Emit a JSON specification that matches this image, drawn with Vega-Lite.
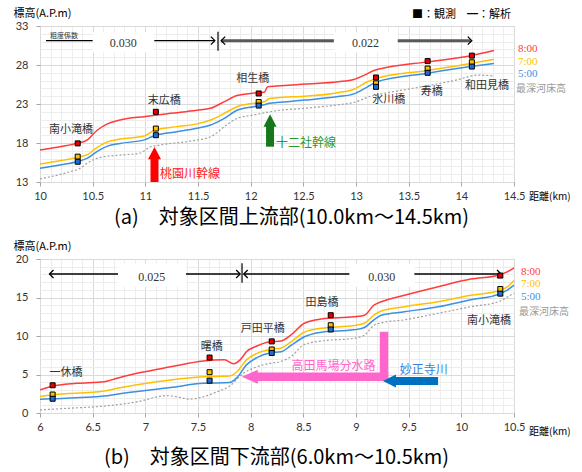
{
"$schema": "https://vega.github.io/schema/vega-lite/v6.json",
"padding": {"left": 12, "top": 6, "right": 2, "bottom": 2},
"bounds": "flush",
"spacing": 77,
"config": {
 "view": {"stroke": "#a6a6a6"},
 "axis": {"domain": false, "tickColor": "#a6a6a6", "tickSize": 4, "labelFont": "Lato", "labelFontSize": 11, "labelColor": "#333333", "titleFont": "Noto Sans CJK JP", "titleFontWeight": "normal", "titleColor": "#000000", "labelOverlap": false, "labelFlush": false, "labelBound": false},
 "text": {"font": "Noto Sans CJK JP"}
},
"datasets": {
 "lineA": [
  {"s":"8:00","km":10.0,"m":17.1},{"s":"8:00","km":10.2,"m":17.55},{"s":"8:00","km":10.35,"m":17.95},{"s":"8:00","km":10.45,"m":18.4},{"s":"8:00","km":10.54,"m":19.6},{"s":"8:00","km":10.64,"m":20.45},{"s":"8:00","km":10.76,"m":20.95},{"s":"8:00","km":11.0,"m":21.4},{"s":"8:00","km":11.24,"m":21.8},{"s":"8:00","km":11.49,"m":22.2},{"s":"8:00","km":11.62,"m":22.45},{"s":"8:00","km":11.75,"m":23.3},{"s":"8:00","km":11.87,"m":24.1},{"s":"8:00","km":12.03,"m":24.4},{"s":"8:00","km":12.13,"m":24.5},{"s":"8:00","km":12.16,"m":25.2},{"s":"8:00","km":12.25,"m":25.3},{"s":"8:00","km":12.51,"m":25.55},{"s":"8:00","km":12.83,"m":25.85},{"s":"8:00","km":12.98,"m":26.15},{"s":"8:00","km":13.08,"m":26.7},{"s":"8:00","km":13.17,"m":27.3},{"s":"8:00","km":13.3,"m":27.7},{"s":"8:00","km":13.68,"m":28.4},{"s":"8:00","km":14.09,"m":29.2},{"s":"8:00","km":14.31,"m":29.85},
  {"s":"7:00","km":10.0,"m":15.3},{"s":"7:00","km":10.2,"m":15.75},{"s":"7:00","km":10.35,"m":16.15},{"s":"7:00","km":10.45,"m":16.5},{"s":"7:00","km":10.54,"m":17.4},{"s":"7:00","km":10.64,"m":18.15},{"s":"7:00","km":10.76,"m":18.5},{"s":"7:00","km":10.99,"m":18.9},{"s":"7:00","km":11.06,"m":19.45},{"s":"7:00","km":11.1,"m":19.7},{"s":"7:00","km":11.3,"m":20.1},{"s":"7:00","km":11.49,"m":20.45},{"s":"7:00","km":11.62,"m":20.95},{"s":"7:00","km":11.75,"m":21.8},{"s":"7:00","km":11.87,"m":22.65},{"s":"7:00","km":12.03,"m":23.1},{"s":"7:00","km":12.13,"m":23.3},{"s":"7:00","km":12.18,"m":23.7},{"s":"7:00","km":12.25,"m":23.8},{"s":"7:00","km":12.51,"m":24.0},{"s":"7:00","km":12.83,"m":24.45},{"s":"7:00","km":12.98,"m":24.9},{"s":"7:00","km":13.11,"m":25.85},{"s":"7:00","km":13.2,"m":26.3},{"s":"7:00","km":13.68,"m":27.3},{"s":"7:00","km":14.09,"m":28.2},{"s":"7:00","km":14.31,"m":28.75},
  {"s":"5:00","km":10.0,"m":14.75},{"s":"5:00","km":10.2,"m":15.2},{"s":"5:00","km":10.35,"m":15.6},{"s":"5:00","km":10.45,"m":16.05},{"s":"5:00","km":10.54,"m":16.9},{"s":"5:00","km":10.64,"m":17.6},{"s":"5:00","km":10.76,"m":17.95},{"s":"5:00","km":10.99,"m":18.4},{"s":"5:00","km":11.06,"m":18.8},{"s":"5:00","km":11.1,"m":19.0},{"s":"5:00","km":11.3,"m":19.45},{"s":"5:00","km":11.49,"m":19.9},{"s":"5:00","km":11.62,"m":20.3},{"s":"5:00","km":11.75,"m":21.15},{"s":"5:00","km":11.87,"m":22.2},{"s":"5:00","km":12.03,"m":22.65},{"s":"5:00","km":12.13,"m":22.9},{"s":"5:00","km":12.18,"m":23.1},{"s":"5:00","km":12.25,"m":23.2},{"s":"5:00","km":12.51,"m":23.5},{"s":"5:00","km":12.83,"m":23.95},{"s":"5:00","km":12.98,"m":24.3},{"s":"5:00","km":13.11,"m":25.2},{"s":"5:00","km":13.2,"m":25.85},{"s":"5:00","km":13.68,"m":26.95},{"s":"5:00","km":14.09,"m":27.8},{"s":"5:00","km":14.31,"m":28.2},
  {"s":"最深河床高","km":10.0,"m":13.4},{"s":"最深河床高","km":10.28,"m":14.3},{"s":"最深河床高","km":10.38,"m":14.75},{"s":"最深河床高","km":10.47,"m":15.6},{"s":"最深河床高","km":10.57,"m":16.15},{"s":"最深河床高","km":10.76,"m":16.45},{"s":"最深河床高","km":10.95,"m":16.7},{"s":"最深河床高","km":11.04,"m":17.45},{"s":"最深河床高","km":11.14,"m":17.75},{"s":"最深河床高","km":11.4,"m":18.2},{"s":"最深河床高","km":11.62,"m":18.8},{"s":"最深河床高","km":11.75,"m":20.1},{"s":"最深河床高","km":11.87,"m":21.15},{"s":"最深河床高","km":12.03,"m":21.6},{"s":"最深河床高","km":12.25,"m":22.15},{"s":"最深河床高","km":12.51,"m":22.45},{"s":"最深河床高","km":12.83,"m":22.9},{"s":"最深河床高","km":12.98,"m":23.2},{"s":"最深河床高","km":13.14,"m":24.0},{"s":"最深河床高","km":13.3,"m":24.45},{"s":"最深河床高","km":13.62,"m":25.2},{"s":"最深河床高","km":13.93,"m":26.0},{"s":"最深河床高","km":14.16,"m":26.7},{"s":"最深河床高","km":14.31,"m":26.6}
 ],
 "obsA": [
  {"s":"8:00","km":10.358,"m":17.95},{"s":"7:00","km":10.358,"m":16.25},{"s":"5:00","km":10.358,"m":15.6},
  {"s":"8:00","km":11.1,"m":22.0},{"s":"7:00","km":11.1,"m":19.85},{"s":"5:00","km":11.1,"m":19.0},
  {"s":"8:00","km":12.076,"m":24.35},{"s":"7:00","km":12.076,"m":23.25},{"s":"5:00","km":12.076,"m":22.8},
  {"s":"8:00","km":13.19,"m":26.4},{"s":"7:00","km":13.19,"m":25.65},{"s":"5:00","km":13.19,"m":25.2},
  {"s":"8:00","km":13.68,"m":28.5},{"s":"7:00","km":13.68,"m":27.55},{"s":"5:00","km":13.68,"m":27.0},
  {"s":"8:00","km":14.1,"m":29.2},{"s":"7:00","km":14.1,"m":28.35},{"s":"5:00","km":14.1,"m":27.8}
 ],
 "bridgeA": [
  {"t":"南小滝橋","km":10.294,"m":19.7},{"t":"末広橋","km":11.18,"m":23.42},{"t":"相生橋","km":12.02,"m":26.16},
  {"t":"氷川橋","km":13.31,"m":23.51},{"t":"寿橋","km":13.72,"m":24.58},{"t":"和田見橋","km":14.244,"m":25.35}
 ],
 "lineB": [
  {"s":"8:00","km":6.0,"m":3.0},{"s":"8:00","km":6.11,"m":3.45},{"s":"8:00","km":6.35,"m":3.85},{"s":"8:00","km":6.61,"m":4.07},{"s":"8:00","km":6.73,"m":4.5},{"s":"8:00","km":6.92,"m":5.15},{"s":"8:00","km":7.24,"m":6.0},{"s":"8:00","km":7.55,"m":6.75},{"s":"8:00","km":7.75,"m":6.9},{"s":"8:00","km":7.84,"m":6.4},{"s":"8:00","km":7.9,"m":6.9},{"s":"8:00","km":7.96,"m":7.95},{"s":"8:00","km":8.06,"m":8.7},{"s":"8:00","km":8.18,"m":9.25},{"s":"8:00","km":8.29,"m":9.35},{"s":"8:00","km":8.38,"m":10.1},{"s":"8:00","km":8.51,"m":11.65},{"s":"8:00","km":8.67,"m":12.2},{"s":"8:00","km":8.98,"m":12.5},{"s":"8:00","km":9.08,"m":12.7},{"s":"8:00","km":9.17,"m":14.0},{"s":"8:00","km":9.24,"m":14.45},{"s":"8:00","km":9.46,"m":15.3},{"s":"8:00","km":9.78,"m":16.4},{"s":"8:00","km":10.09,"m":17.4},{"s":"8:00","km":10.35,"m":17.9},{"s":"8:00","km":10.44,"m":18.35},{"s":"8:00","km":10.5,"m":18.85},
  {"s":"7:00","km":6.0,"m":2.15},{"s":"7:00","km":6.11,"m":2.35},{"s":"7:00","km":6.61,"m":2.85},{"s":"7:00","km":6.73,"m":3.2},{"s":"7:00","km":7.24,"m":4.3},{"s":"7:00","km":7.55,"m":4.7},{"s":"7:00","km":7.8,"m":4.8},{"s":"7:00","km":7.87,"m":5.35},{"s":"7:00","km":7.96,"m":6.9},{"s":"7:00","km":8.06,"m":7.75},{"s":"7:00","km":8.18,"m":8.25},{"s":"7:00","km":8.29,"m":8.45},{"s":"7:00","km":8.38,"m":9.2},{"s":"7:00","km":8.51,"m":10.5},{"s":"7:00","km":8.67,"m":11.0},{"s":"7:00","km":8.98,"m":11.35},{"s":"7:00","km":9.08,"m":11.65},{"s":"7:00","km":9.17,"m":12.7},{"s":"7:00","km":9.24,"m":13.25},{"s":"7:00","km":9.46,"m":13.8},{"s":"7:00","km":9.78,"m":14.45},{"s":"7:00","km":10.09,"m":15.3},{"s":"7:00","km":10.35,"m":15.85},{"s":"7:00","km":10.44,"m":16.4},{"s":"7:00","km":10.5,"m":17.2},
  {"s":"5:00","km":6.0,"m":1.8},{"s":"5:00","km":6.11,"m":1.85},{"s":"5:00","km":6.61,"m":2.2},{"s":"5:00","km":6.73,"m":2.45},{"s":"5:00","km":7.24,"m":3.3},{"s":"5:00","km":7.55,"m":3.85},{"s":"5:00","km":7.8,"m":3.95},{"s":"5:00","km":7.87,"m":4.6},{"s":"5:00","km":7.96,"m":6.25},{"s":"5:00","km":8.06,"m":7.2},{"s":"5:00","km":8.18,"m":7.8},{"s":"5:00","km":8.29,"m":7.95},{"s":"5:00","km":8.38,"m":8.75},{"s":"5:00","km":8.51,"m":9.9},{"s":"5:00","km":8.67,"m":10.5},{"s":"5:00","km":8.98,"m":10.8},{"s":"5:00","km":9.08,"m":11.1},{"s":"5:00","km":9.17,"m":12.1},{"s":"5:00","km":9.24,"m":12.7},{"s":"5:00","km":9.46,"m":13.15},{"s":"5:00","km":9.78,"m":13.8},{"s":"5:00","km":10.09,"m":14.7},{"s":"5:00","km":10.35,"m":15.4},{"s":"5:00","km":10.44,"m":16.0},{"s":"5:00","km":10.5,"m":16.6},
  {"s":"最深河床高","km":6.0,"m":0.4},{"s":"最深河床高","km":6.25,"m":0.6},{"s":"最深河床高","km":6.61,"m":0.9},{"s":"最深河床高","km":6.92,"m":1.45},{"s":"最深河床高","km":7.2,"m":2.25},{"s":"最深河床高","km":7.3,"m":2.1},{"s":"最深河床高","km":7.42,"m":1.8},{"s":"最深河床高","km":7.55,"m":2.1},{"s":"最深河床高","km":7.68,"m":2.75},{"s":"最深河床高","km":7.8,"m":3.5},{"s":"最深河床高","km":7.93,"m":5.15},{"s":"最深河床高","km":8.06,"m":6.0},{"s":"最深河床高","km":8.18,"m":6.45},{"s":"最深河床高","km":8.29,"m":6.7},{"s":"最深河床高","km":8.38,"m":7.3},{"s":"最深河床高","km":8.51,"m":8.9},{"s":"最深河床高","km":8.67,"m":9.35},{"s":"最深河床高","km":8.98,"m":9.7},{"s":"最深河床高","km":9.08,"m":10.1},{"s":"最深河床高","km":9.17,"m":11.4},{"s":"最深河床高","km":9.24,"m":11.7},{"s":"最深河床高","km":9.46,"m":12.1},{"s":"最深河床高","km":9.78,"m":12.95},{"s":"最深河床高","km":10.09,"m":13.8},{"s":"最深河床高","km":10.35,"m":14.45},{"s":"最深河床高","km":10.5,"m":15.6}
 ],
 "obsB": [
  {"s":"8:00","km":6.12,"m":3.6},{"s":"7:00","km":6.12,"m":2.4},{"s":"5:00","km":6.12,"m":1.85},
  {"s":"8:00","km":7.61,"m":7.2},{"s":"7:00","km":7.61,"m":5.3},{"s":"5:00","km":7.61,"m":4.2},
  {"s":"8:00","km":8.2,"m":9.3},{"s":"7:00","km":8.2,"m":8.25},{"s":"5:00","km":8.2,"m":7.8},
  {"s":"8:00","km":8.76,"m":12.7},{"s":"7:00","km":8.76,"m":11.4},{"s":"5:00","km":8.76,"m":10.85},
  {"s":"8:00","km":10.37,"m":17.85},{"s":"7:00","km":10.37,"m":16.1},{"s":"5:00","km":10.37,"m":15.5}
 ],
 "bridgeB": [
  {"t":"一休橋","km":6.247,"m":5.24},{"t":"曙橋","km":7.63,"m":8.62},{"t":"戸田平橋","km":8.114,"m":10.87},
  {"t":"田島橋","km":8.677,"m":14.33},{"t":"南小滝橋","km":10.263,"m":12.0}
 ]
},
"vconcat": [
 {
  "width": 474, "height": 156,
  "encoding": {
   "x": {"field": "km", "type": "quantitative", "scale": {"domain": [10, 14.5], "nice": false, "zero": false},
    "axis": {"values": [10,10.1,10.2,10.3,10.4,10.5,10.6,10.7,10.8,10.9,11,11.1,11.2,11.3,11.4,11.5,11.6,11.7,11.8,11.9,12,12.1,12.2,12.3,12.4,12.5,12.6,12.7,12.8,12.9,13,13.1,13.2,13.3,13.4,13.5,13.6,13.7,13.8,13.9,14,14.1,14.2,14.3,14.4,14.5],
     "labelExpr": "abs(datum.value*2-round(datum.value*2))<0.01 ? format(datum.value,'~g') : ''",
     "tickOpacity": {"condition": {"test": "abs(datum.value*2-round(datum.value*2))<0.01", "value": 1}, "value": 0},
     "grid": true, "gridColor": {"condition": {"test": "abs(datum.value*2-round(datum.value*2))<0.01", "value": "#dadada"}, "value": "#ededed"},
     "labelPadding": 4,
     "title": "(a)　対象区間上流部(10.0km～14.5km)", "titleFontSize": 20, "titleX": 251, "titleY": 35, "titleBaseline": "middle", "titleAlign": "center"}},
   "y": {"field": "m", "type": "quantitative", "scale": {"domain": [13, 33], "nice": false, "zero": false},
    "axis": {"values": [13,14,15,16,17,18,19,20,21,22,23,24,25,26,27,28,29,30,31,32,33],
     "labelExpr": "(datum.value-13)%5==0 ? format(datum.value,'~g') : ''",
     "tickOpacity": {"condition": {"test": "(datum.value-13)%5==0", "value": 1}, "value": 0},
     "grid": true, "gridColor": {"condition": {"test": "(datum.value-13)%5==0", "value": "#dadada"}, "value": "#ededed"},
     "labelPadding": 8,
     "title": "標高(A.P.m)", "titleFontSize": 11, "titleAngle": 0, "titleAlign": "left", "titleBaseline": "middle", "titleX": -27, "titleY": -13}}
  },
  "layer": [
   {"data": {"values": [{"km":10.503,"km2":11.082,"m":29.6,"m2":32.2},{"km":12.79,"km2":13.396,"m":29.6,"m2":32.2}]},
    "mark": {"type": "rect", "color": "#ffffff"}, "encoding": {"x2": {"field": "km2"}, "y2": {"field": "m2"}}},
   {"data": {"values": [{"km":10.057,"km2":10.5,"m":31.12},{"km":11.085,"km2":11.655,"m":31.12}]},
    "mark": {"type": "rule", "color": "#000000", "strokeWidth": 1.3}, "encoding": {"x2": {"field": "km2"}}},
   {"data": {"values": [{"km":11.72,"km2":12.79,"m":31.12},{"km":13.396,"km2":14.09,"m":31.12}]},
    "mark": {"type": "rule", "color": "#595959", "strokeWidth": 3}, "encoding": {"x2": {"field": "km2"}}},
   {"data": {"values": [{"km":11.69,"m":29.83,"m2":32.27}]},
    "mark": {"type": "rule", "color": "#000000", "strokeWidth": 1.2}, "encoding": {"y2": {"field": "m2"}}},
   {"data": {"values": [{"km":11.66,"m":31.12},{"km":14.099,"m":31.12}]},
    "mark": {"type": "point", "shape": "M -1 -1 L 0 0 L -1 1", "filled": false, "color": "#000000", "strokeWidth": 1.3, "size": 64, "opacity": 1}},
   {"data": {"values": [{"km":11.72,"m":31.12}]},
    "mark": {"type": "point", "shape": "M 1 -1 L 0 0 L 1 1", "filled": false, "color": "#000000", "strokeWidth": 1.3, "size": 64, "opacity": 1}},
   {"data": {"values": [{"km":10.79,"m":30.85,"t":"0.030"},{"km":13.09,"m":30.85,"t":"0.022"}]},
    "mark": {"type": "text", "font": "Liberation Serif", "fontSize": 12, "color": "#333333"}, "encoding": {"text": {"field": "t"}}},
   {"data": {"values": [{"km":10.228,"m":31.72,"t":"粗度係数"}]},
    "mark": {"type": "text", "fontSize": 7, "color": "#333333"}, "encoding": {"text": {"field": "t"}}},
   {"data": {"values": [{"km":11.087,"m":13,"m2":16.0}]},
    "mark": {"type": "rule", "color": "#ff0000", "strokeWidth": 8, "strokeCap": "butt"}, "encoding": {"y2": {"field": "m2"}}},
   {"data": {"values": [{"km":11.087,"m":17.49}]},
    "mark": {"type": "point", "shape": "M 0 0 L 1 1.9 L -1 1.9 Z", "filled": true, "color": "#ff0000", "size": 169, "opacity": 1}},
   {"data": {"values": [{"km":12.184,"m":17.53,"m2":20.2}]},
    "mark": {"type": "rule", "color": "#17771a", "strokeWidth": 8, "strokeCap": "butt"}, "encoding": {"y2": {"field": "m2"}}},
   {"data": {"values": [{"km":12.184,"m":21.68}]},
    "mark": {"type": "point", "shape": "M 0 0 L 1 1.9 L -1 1.9 Z", "filled": true, "color": "#17771a", "size": 169, "opacity": 1}},
   {"data": {"values": [{"km":11.139,"m":14.0,"t":"桃園川幹線"}]},
    "mark": {"type": "text", "fontSize": 12, "align": "left", "color": "#ff2020"}, "encoding": {"text": {"field": "t"}}},
   {"data": {"values": [{"km":12.24,"m":17.95,"t":"十二社幹線"}]},
    "mark": {"type": "text", "fontSize": 12, "align": "left", "color": "#2b9a2b"}, "encoding": {"text": {"field": "t"}}},
   {"data": {"name": "lineA"}, "transform": [{"filter": "datum.s == '最深河床高'"}],
    "mark": {"type": "line", "interpolate": "monotone", "color": "#a0a0a0", "strokeWidth": 1.2, "strokeDash": [2, 2]}},
   {"data": {"name": "lineA"}, "transform": [{"filter": "datum.s != '最深河床高'"}],
    "mark": {"type": "line", "interpolate": "monotone", "strokeWidth": 1.5},
    "encoding": {"color": {"field": "s", "type": "nominal", "scale": {"domain": ["8:00","7:00","5:00","最深河床高"], "range": ["#ff3b3b","#ffc000","#3d8fe0","#a0a0a0"]}, "legend": null}}},
   {"data": {"name": "obsA"},
    "mark": {"type": "point", "shape": "square", "filled": true, "size": 25, "stroke": "#000000", "strokeWidth": 1, "opacity": 1},
    "encoding": {"fill": {"field": "s", "type": "nominal", "scale": {"domain": ["8:00","7:00","5:00"], "range": ["#e00000","#ffc000","#1c6fd6"]}, "legend": null}}},
   {"data": {"name": "bridgeA"},
    "mark": {"type": "text", "fontSize": 11, "color": "#333333"}, "encoding": {"text": {"field": "t"}}},
   {"data": {"values": [{"s":"8:00","km":14.538,"m":30.0},{"s":"7:00","km":14.538,"m":28.35},{"s":"5:00","km":14.538,"m":26.85}]},
    "mark": {"type": "text", "font": "Liberation Serif", "fontSize": 11, "align": "left"},
    "encoding": {"text": {"field": "s"}, "color": {"field": "s", "type": "nominal", "legend": null}}},
   {"data": {"values": [{"km":14.52,"m":24.88,"t":"最深河床高"}]},
    "mark": {"type": "text", "fontSize": 10, "align": "left", "color": "#999999"}, "encoding": {"text": {"field": "t"}}},
   {"data": {"values": [{"km":14.643,"m":11.08,"t":"距離(km)"}]},
    "mark": {"type": "text", "fontSize": 10, "align": "left", "color": "#000000"}, "encoding": {"text": {"field": "t"}}},
   {"data": {"values": [{"km":14.472,"m":34.4,"t":"■：観測　━：解析"}]},
    "mark": {"type": "text", "fontSize": 11, "align": "right", "color": "#000000"}, "encoding": {"text": {"field": "t"}}}
  ]
 },
 {
  "width": 474, "height": 154,
  "encoding": {
   "x": {"field": "km", "type": "quantitative", "scale": {"domain": [6, 10.5], "nice": false, "zero": false},
    "axis": {"values": [6,6.1,6.2,6.3,6.4,6.5,6.6,6.7,6.8,6.9,7,7.1,7.2,7.3,7.4,7.5,7.6,7.7,7.8,7.9,8,8.1,8.2,8.3,8.4,8.5,8.6,8.7,8.8,8.9,9,9.1,9.2,9.3,9.4,9.5,9.6,9.7,9.8,9.9,10,10.1,10.2,10.3,10.4,10.5],
     "labelExpr": "abs(datum.value*2-round(datum.value*2))<0.01 ? format(datum.value,'~g') : ''",
     "tickOpacity": {"condition": {"test": "abs(datum.value*2-round(datum.value*2))<0.01", "value": 1}, "value": 0},
     "grid": true, "gridColor": {"condition": {"test": "abs(datum.value*2-round(datum.value*2))<0.01", "value": "#dadada"}, "value": "#ededed"},
     "labelPadding": 4,
     "title": "(b)　対象区間下流部(6.0km～10.5km)", "titleFontSize": 20, "titleX": 236, "titleY": 44, "titleBaseline": "middle", "titleAlign": "center"}},
   "y": {"field": "m", "type": "quantitative", "scale": {"domain": [0, 20], "nice": false, "zero": false},
    "axis": {"values": [0,1,2,3,4,5,6,7,8,9,10,11,12,13,14,15,16,17,18,19,20],
     "labelExpr": "datum.value%5==0 ? format(datum.value,'~g') : ''",
     "tickOpacity": {"condition": {"test": "datum.value%5==0", "value": 1}, "value": 0},
     "grid": true, "gridColor": {"condition": {"test": "datum.value%5==0", "value": "#dadada"}, "value": "#ededed"},
     "labelPadding": 8,
     "title": "標高(A.P.m)", "titleFontSize": 11, "titleAngle": 0, "titleAlign": "left", "titleBaseline": "middle", "titleX": -27, "titleY": -13}}
  },
  "layer": [
   {"data": {"values": [{"km":6.738,"km2":7.386,"m":16.4,"m2":19.4},{"km":8.937,"km2":9.554,"m":16.4,"m2":19.4}]},
    "mark": {"type": "rect", "color": "#ffffff"}, "encoding": {"x2": {"field": "km2"}, "y2": {"field": "m2"}}},
   {"data": {"values": [{"km":6.09,"km2":6.74,"m":18.05},{"km":7.386,"km2":7.9,"m":18.05},{"km":7.934,"km2":8.937,"m":18.05},{"km":9.554,"km2":10.377,"m":18.05}]},
    "mark": {"type": "rule", "color": "#000000", "strokeWidth": 1.3}, "encoding": {"x2": {"field": "km2"}}},
   {"data": {"values": [{"km":7.918,"m":16.92,"m2":19.44}]},
    "mark": {"type": "rule", "color": "#000000", "strokeWidth": 1.2}, "encoding": {"y2": {"field": "m2"}}},
   {"data": {"values": [{"km":7.9,"m":18.05},{"km":10.377,"m":18.05}]},
    "mark": {"type": "point", "shape": "M -1 -1 L 0 0 L -1 1", "filled": false, "color": "#000000", "strokeWidth": 1.3, "size": 64, "opacity": 1}},
   {"data": {"values": [{"km":6.09,"m":18.05},{"km":7.934,"m":18.05}]},
    "mark": {"type": "point", "shape": "M 1 -1 L 0 0 L 1 1", "filled": false, "color": "#000000", "strokeWidth": 1.3, "size": 64, "opacity": 1}},
   {"data": {"values": [{"km":7.06,"m":17.7,"t":"0.025"},{"km":9.244,"m":17.6,"t":"0.030"}]},
    "mark": {"type": "text", "font": "Liberation Serif", "fontSize": 12, "color": "#333333"}, "encoding": {"text": {"field": "t"}}},
   {"data": {"values": [{"km":9.266,"m":4.15,"m2":10.55}]},
    "mark": {"type": "rule", "color": "#ff66cc", "strokeWidth": 8.5, "strokeCap": "butt"}, "encoding": {"y2": {"field": "m2"}}},
   {"data": {"values": [{"km":8.05,"km2":9.306,"m":4.7}]},
    "mark": {"type": "rule", "color": "#ff66cc", "strokeWidth": 8.5, "strokeCap": "butt"}, "encoding": {"x2": {"field": "km2"}}},
   {"data": {"values": [{"km":7.915,"m":4.7}]},
    "mark": {"type": "point", "shape": "M 0 0 L 2.3 -1 L 2.3 1 Z", "filled": true, "color": "#ff66cc", "size": 196, "opacity": 1}},
   {"data": {"values": [{"km":9.37,"km2":9.779,"m":4.16}]},
    "mark": {"type": "rule", "color": "#0070c0", "strokeWidth": 8, "strokeCap": "butt"}, "encoding": {"x2": {"field": "km2"}}},
   {"data": {"values": [{"km":9.256,"m":4.16}]},
    "mark": {"type": "point", "shape": "M 0 0 L 2 -1 L 2 1 Z", "filled": true, "color": "#0070c0", "size": 169, "opacity": 1}},
   {"data": {"values": [{"km":8.786,"m":6.1,"t":"高田馬場分水路"}]},
    "mark": {"type": "text", "fontSize": 12, "color": "#ff66cc"}, "encoding": {"text": {"field": "t"}}},
   {"data": {"values": [{"km":9.643,"m":5.52,"t":"妙正寺川"}]},
    "mark": {"type": "text", "fontSize": 12, "color": "#3a7fe0"}, "encoding": {"text": {"field": "t"}}},
   {"data": {"name": "lineB"}, "transform": [{"filter": "datum.s == '最深河床高'"}],
    "mark": {"type": "line", "interpolate": "monotone", "color": "#a0a0a0", "strokeWidth": 1.2, "strokeDash": [2, 2]}},
   {"data": {"name": "lineB"}, "transform": [{"filter": "datum.s != '最深河床高'"}],
    "mark": {"type": "line", "interpolate": "monotone", "strokeWidth": 1.5},
    "encoding": {"color": {"field": "s", "type": "nominal", "scale": {"domain": ["8:00","7:00","5:00","最深河床高"], "range": ["#ff3b3b","#ffc000","#3d8fe0","#a0a0a0"]}, "legend": null}}},
   {"data": {"name": "obsB"},
    "mark": {"type": "point", "shape": "square", "filled": true, "size": 25, "stroke": "#000000", "strokeWidth": 1, "opacity": 1},
    "encoding": {"fill": {"field": "s", "type": "nominal", "scale": {"domain": ["8:00","7:00","5:00"], "range": ["#e00000","#ffc000","#1c6fd6"]}, "legend": null}}},
   {"data": {"name": "bridgeB"},
    "mark": {"type": "text", "fontSize": 11, "color": "#333333"}, "encoding": {"text": {"field": "t"}}},
   {"data": {"values": [{"s":"8:00","km":10.567,"m":18.35},{"s":"7:00","km":10.567,"m":16.71},{"s":"5:00","km":10.567,"m":15.1}]},
    "mark": {"type": "text", "font": "Liberation Serif", "fontSize": 11, "align": "left"},
    "encoding": {"text": {"field": "s"}, "color": {"field": "s", "type": "nominal", "legend": null}}},
   {"data": {"values": [{"km":10.548,"m":13.1,"t":"最深河床高"}]},
    "mark": {"type": "text", "fontSize": 10, "align": "left", "color": "#999999"}, "encoding": {"text": {"field": "t"}}},
   {"data": {"values": [{"km":10.643,"m":-2.47,"t":"距離(km)"}]},
    "mark": {"type": "text", "fontSize": 10, "align": "left", "color": "#000000"}, "encoding": {"text": {"field": "t"}}}
  ]
 }
]
}
